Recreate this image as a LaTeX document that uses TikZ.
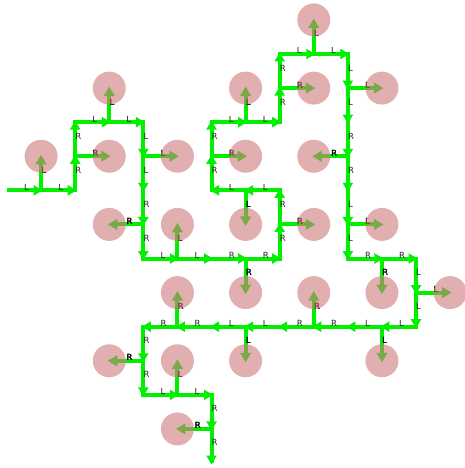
\documentclass[tikz,border=0pt]{standalone}
\usepackage{fontspec}
\setmainfont{DejaVu Sans}
\usetikzlibrary{arrows.meta}
\definecolor{pgreen}{RGB}{0,240,0}
\definecolor{circc}{RGB}{205,122,122}
\tikzset{
  pline/.style={draw=pgreen, line width=4pt, line join=miter},
  pseg/.style={draw=pgreen, line width=4pt, -{Triangle[length=9pt,width=10pt]}, shorten >=-1.5pt},
  parrow/.style={draw=pgreen, line width=4pt, -{Triangle[length=9.5pt,width=10.5pt]}, shorten >=-1.5pt},
  seglab/.style={anchor=base west, inner sep=0pt, text=black!85, font=\fontsize{8.5}{10}\selectfont},
  perplab/.style={anchor=base west, inner sep=0pt, text=black, font=\fontsize{8.5}{10}\selectfont},
  circfill/.style={fill=circc, fill opacity=0.6}
}
\def\segs{0/2/1/0/L,1/2/0/-1/R,1/1/1/0/L,2/1/0/1/L,2/2/0/1/R,2/3/1/0/L,3/3/1/0/R,4/3/0/-1/R,4/2/-1/0/L,3/2/0/-1/R,3/1/1/0/L,4/1/0/-1/R,4/0/1/0/L,5/0/0/1/L,5/1/0/1/R,5/2/0/1/L,5/3/1/0/R,6/3/0/1/L,6/4/-1/0/L,5/4/-1/0/R,4/4/-1/0/L,3/4/-1/0/R,2/4/0/1/R,2/5/1/0/L,3/5/0/1/R}
\begin{document}
\begin{tikzpicture}[x=1pt,y=1pt]
\path[use as bounding box] (0pt,0pt) rectangle (465pt,-468pt);
\begin{scope}[shift={(7pt,-54pt)}, x=68.17pt, y=-68.17pt]
  % coordinates
  \foreach \i/\j/\dx/\dy/\t [count=\n] in \segs {
    \if L\t
      \pgfmathsetmacro\px{\dy}\pgfmathsetmacro\py{0-(\dx)}
    \else
      \pgfmathsetmacro\px{0-(\dy)}\pgfmathsetmacro\py{\dx}
    \fi
    \coordinate (s\n) at (\i,\j);
    \coordinate (m\n) at ({\i+0.5*(\dx)},{\j+0.5*(\dy)});
    \coordinate (e\n) at ({\i+(\dx)},{\j+(\dy)});
    \coordinate (qa\n) at ({\i+0.25*(\dx)},{\j+0.25*(\dy)});
    \coordinate (qb\n) at ({\i+0.75*(\dx)},{\j+0.75*(\dy)});
    \coordinate (pm\n) at ({\i+0.5*(\dx)+0.25*(\px)},{\j+0.5*(\dy)+0.25*(\py)});
    \coordinate (cc\n) at ({\i+0.5*(\dx)+0.5*(\px)},{\j+0.5*(\dy)+0.5*(\py)});
  }
  % continuous path
  \draw[pline] (s1) \foreach \k in {2,...,25} { -- (s\k) } -- (e25);
  % half segments with arrowheads
  \foreach \n in {1,...,25} {
    \draw[pseg] (s\n) -- (m\n);
    \draw[pseg] (m\n) -- (e\n);
  }
  % perpendicular arrows
  \foreach \n in {1,...,25} {
    \draw[parrow] (m\n) -- (cc\n);
  }
  % labels
  \foreach \i/\j/\dx/\dy/\t [count=\n] in \segs {
    \node[seglab] (la\n) at (qa\n) {\t};
    \node[seglab] (lb\n) at (qb\n) {\t};
    \node[perplab] (lp\n) at (pm\n) {\t};
    \node[perplab, xshift=0.35pt] (lq\n) at (pm\n) {\t};
  }
  % circles on top
  \foreach \n in {1,...,25} {
    \node[circle, minimum size=33pt, inner sep=0pt, circfill] (c\n) at (cc\n) {};
  }
\end{scope}
\end{tikzpicture}
\end{document}
